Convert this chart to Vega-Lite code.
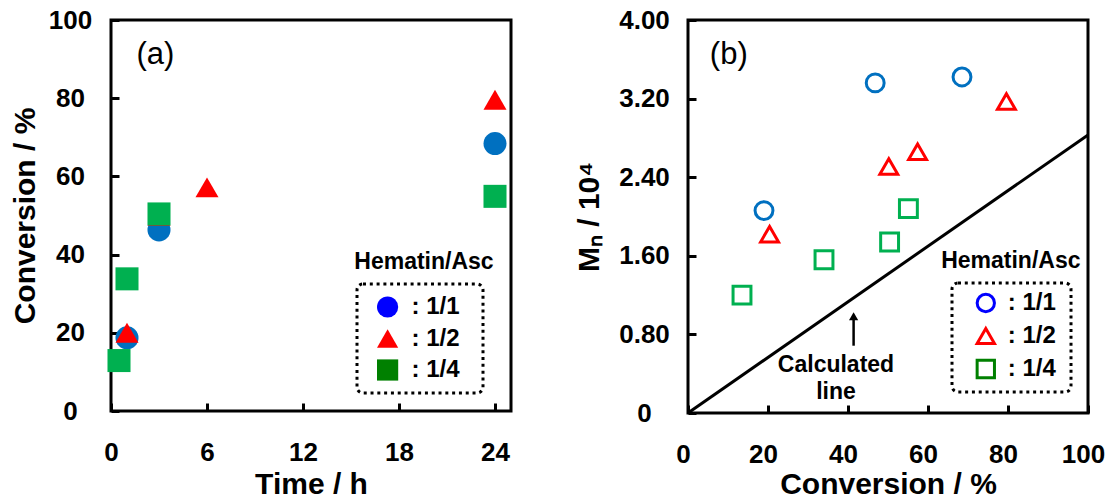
{
  "$schema": "https://vega.github.io/schema/vega-lite/v6.json",
  "background": "white",
  "padding": {"left": 8, "top": 5, "right": 0, "bottom": 0},
  "spacing": 60,
  "config": {
    "font": "Liberation Sans",
    "view": {"stroke": "black", "strokeWidth": 3},
    "axis": {
      "grid": false, "domain": false,
      "ticks": true, "tickColor": "black", "tickWidth": 3, "tickSize": -8,
      "labelFont": "Liberation Sans", "labelFontSize": 26, "labelFontWeight": "bold", "labelColor": "black",
      "labelFlush": false, "labelOverlap": false,
      "titleFont": "Liberation Sans", "titleFontSize": 30, "titleFontWeight": "bold", "titleColor": "black"
    },
    "axisX": {"labelPadding": 36.5, "titlePadding": 4},
    "axisY": {"labelAlign": "center"},
    "legend": {
      "strokeColor": "black", "strokeDash": [3, 3.8], "strokeWidth": 3, "cornerRadius": 6,
      "labelFont": "Liberation Sans", "labelFontSize": 24, "labelFontWeight": "bold", "labelColor": "black"
    },
    "text": {"font": "Liberation Sans", "color": "black"}
  },
  "resolve": {"scale": {"color": "independent", "shape": "independent"}, "legend": {"color": "independent", "shape": "independent"}},
  "hconcat": [
    {
      "width": 400, "height": 391,
      "encoding": {
        "x": {"field": "x", "type": "quantitative", "scale": {"domain": [0, 25], "nice": false, "zero": false},
              "axis": {"values": [0, 6, 12, 18, 24], "title": "Time / h"}},
        "y": {"field": "y", "type": "quantitative", "scale": {"domain": [0, 100], "nice": false},
              "axis": {"values": [0, 20, 40, 60, 80, 100], "title": "Conversion / %", "labelPadding": 49, "titlePadding": 8}}
      },
      "resolve": {"scale": {"color": "independent", "shape": "independent"}},
      "layer": [
        {
          "data": {"name": "pa"},
          "mark": {"type": "point", "filled": true, "opacity": 1, "size": 200},
          "encoding": {
            "color": {"field": "ratio", "type": "nominal",
                      "scale": {"domain": ["1/1", "1/2", "1/4"], "range": ["#0000FF", "#FF0000", "#008000"]},
                      "legend": {"orient": "none", "legendX": 246, "legendY": 264, "title": null,
                                 "padding": 11, "rowPadding": 7.5,
                                 "symbolSize": 450, "symbolOffset": 7.6, "labelOffset": 12, "symbolStrokeWidth": 0,
                                 "labelExpr": "': ' + datum.label + '\u00a0\u2009\u200b'"}},
            "shape": {"field": "ratio", "type": "nominal",
                      "scale": {"domain": ["1/1", "1/2", "1/4"], "range": ["circle", "triangle-up", "square"]},
                      "legend": {"orient": "none", "legendX": 246, "legendY": 264, "title": null,
                                 "padding": 11, "rowPadding": 7.5,
                                 "symbolSize": 450, "symbolOffset": 7.6, "labelOffset": 12, "symbolStrokeWidth": 0,
                                 "labelExpr": "': ' + datum.label + '\u00a0\u2009\u200b'"}}
          }
        },
        {
          "data": {"name": "pa"},
          "mark": {"type": "point", "filled": true, "opacity": 1, "size": 530},
          "encoding": {
            "color": {"field": "ratio", "type": "nominal",
                      "scale": {"domain": ["1/1", "1/2", "1/4"], "range": ["#0070C0", "#FF0000", "#00B050"]},
                      "legend": null},
            "shape": {"field": "ratio", "type": "nominal",
                      "scale": {"domain": ["1/1", "1/2", "1/4"], "range": ["circle", "triangle-up", "square"]},
                      "legend": null}
          }
        },
        {
          "data": {"values": [{"x": 2.78, "y": 88.8, "label": "(a)"}]},
          "mark": {"type": "text", "fontSize": 31, "fontWeight": "normal", "align": "center", "baseline": "alphabetic"},
          "encoding": {"text": {"field": "label"}}
        },
        {
          "data": {"values": [{"x": 19.56, "y": 36.3, "label": "Hematin/Asc"}]},
          "mark": {"type": "text", "fontSize": 23, "fontWeight": "bold", "align": "center", "baseline": "alphabetic"},
          "encoding": {"text": {"field": "label"}}
        }
      ]
    },
    {
      "width": 400, "height": 393,
      "encoding": {
        "x": {"field": "x", "type": "quantitative", "scale": {"domain": [0, 100], "nice": false},
              "axis": {"values": [0, 20, 40, 60, 80, 100], "title": "Conversion / %", "labelOffset": -5, "titlePadding": 2}},
        "y": {"field": "y", "type": "quantitative", "scale": {"domain": [0, 4], "nice": false},
              "axis": {"values": [0, 0.8, 1.6, 2.4, 3.2, 4.0], "title": "Mₙ / 10⁴", "labelPadding": 52, "titlePadding": 14,
                       "labelExpr": "datum.value == 0 ? '0' : format(datum.value, '.2f')"}}
      },
      "resolve": {"scale": {"color": "independent", "shape": "independent"}},
      "layer": [
        {
          "data": {"values": [{"x": 0, "y": 0}, {"x": 100, "y": 2.83}]},
          "mark": {"type": "line", "color": "black", "strokeWidth": 3},
          "encoding": {}
        },
        {
          "data": {"values": [{"x": 41.4, "y": 0.685, "y2": 0.97}]},
          "mark": {"type": "rule", "color": "black", "strokeWidth": 2.5},
          "encoding": {"y2": {"field": "y2"}}
        },
        {
          "data": {"values": [{"x": 41.4, "y": 0.985}]},
          "mark": {"type": "point", "shape": "triangle-up", "filled": true, "color": "black", "size": 85, "opacity": 1},
          "encoding": {}
        },
        {
          "data": {"name": "pb"},
          "mark": {"type": "point", "filled": false, "opacity": 0, "size": 300, "strokeWidth": 3},
          "encoding": {
            "color": {"field": "ratio", "type": "nominal",
                      "scale": {"domain": ["1/1", "1/2", "1/4"], "range": ["#0000FF", "#FF0000", "#008000"]},
                      "legend": {"orient": "none", "legendX": 264, "legendY": 263, "title": null,
                                 "padding": 8, "rowPadding": 4,
                                 "symbolSize": 300, "symbolStrokeWidth": 3, "symbolOffset": 13.8, "labelOffset": 10,
                                 "labelExpr": "': ' + datum.label + '\u00a0\u200b'"}},
            "shape": {"field": "ratio", "type": "nominal",
                      "scale": {"domain": ["1/1", "1/2", "1/4"], "range": ["circle", "triangle-up", "square"]},
                      "legend": {"orient": "none", "legendX": 264, "legendY": 263, "title": null,
                                 "padding": 8, "rowPadding": 4,
                                 "symbolSize": 300, "symbolStrokeWidth": 3, "symbolOffset": 13.8, "labelOffset": 10,
                                 "labelExpr": "': ' + datum.label + '\u00a0\u200b'"}}
          }
        },
        {
          "data": {"name": "pb"},
          "mark": {"type": "point", "filled": false, "opacity": 1, "size": 320, "strokeWidth": 3},
          "encoding": {
            "color": {"field": "ratio", "type": "nominal",
                      "scale": {"domain": ["1/1", "1/2", "1/4"], "range": ["#0070C0", "#FF0000", "#00B050"]},
                      "legend": null},
            "shape": {"field": "ratio", "type": "nominal",
                      "scale": {"domain": ["1/1", "1/2", "1/4"], "range": ["circle", "triangle-up", "square"]},
                      "legend": null}
          }
        },
        {
          "data": {"values": [{"x": 10.2, "y": 3.557, "label": "(b)"}]},
          "mark": {"type": "text", "fontSize": 31, "fontWeight": "normal", "align": "center", "baseline": "alphabetic"},
          "encoding": {"text": {"field": "label"}}
        },
        {
          "data": {"values": [
            {"x": 80.7, "y": 1.48, "label": "Hematin/Asc"},
            {"x": 37.0, "y": 0.415, "label": "Calculated"},
            {"x": 37.0, "y": 0.14, "label": "line"}
          ]},
          "mark": {"type": "text", "fontSize": 23, "fontWeight": "bold", "align": "center", "baseline": "alphabetic"},
          "encoding": {"text": {"field": "label"}}
        }
      ]
    }
  ],
  "datasets": {
    "pa": [
      {"ratio": "1/1", "x": 1, "y": 18.7},
      {"ratio": "1/1", "x": 3, "y": 46.3},
      {"ratio": "1/1", "x": 24, "y": 68.4},
      {"ratio": "1/2", "x": 1, "y": 20.0},
      {"ratio": "1/2", "x": 3, "y": 49.9},
      {"ratio": "1/2", "x": 6, "y": 57.2},
      {"ratio": "1/2", "x": 24, "y": 79.6},
      {"ratio": "1/4", "x": 0.5, "y": 12.9},
      {"ratio": "1/4", "x": 1, "y": 33.8},
      {"ratio": "1/4", "x": 3, "y": 50.4},
      {"ratio": "1/4", "x": 24, "y": 54.9}
    ],
    "pb": [
      {"ratio": "1/1", "x": 19.0, "y": 2.06},
      {"ratio": "1/1", "x": 46.8, "y": 3.36},
      {"ratio": "1/1", "x": 68.5, "y": 3.42},
      {"ratio": "1/2", "x": 20.4, "y": 1.82},
      {"ratio": "1/2", "x": 50.2, "y": 2.51},
      {"ratio": "1/2", "x": 57.4, "y": 2.66},
      {"ratio": "1/2", "x": 79.6, "y": 3.17},
      {"ratio": "1/4", "x": 13.5, "y": 1.20},
      {"ratio": "1/4", "x": 34.0, "y": 1.56},
      {"ratio": "1/4", "x": 50.4, "y": 1.74},
      {"ratio": "1/4", "x": 55.1, "y": 2.08}
    ]
  }
}
